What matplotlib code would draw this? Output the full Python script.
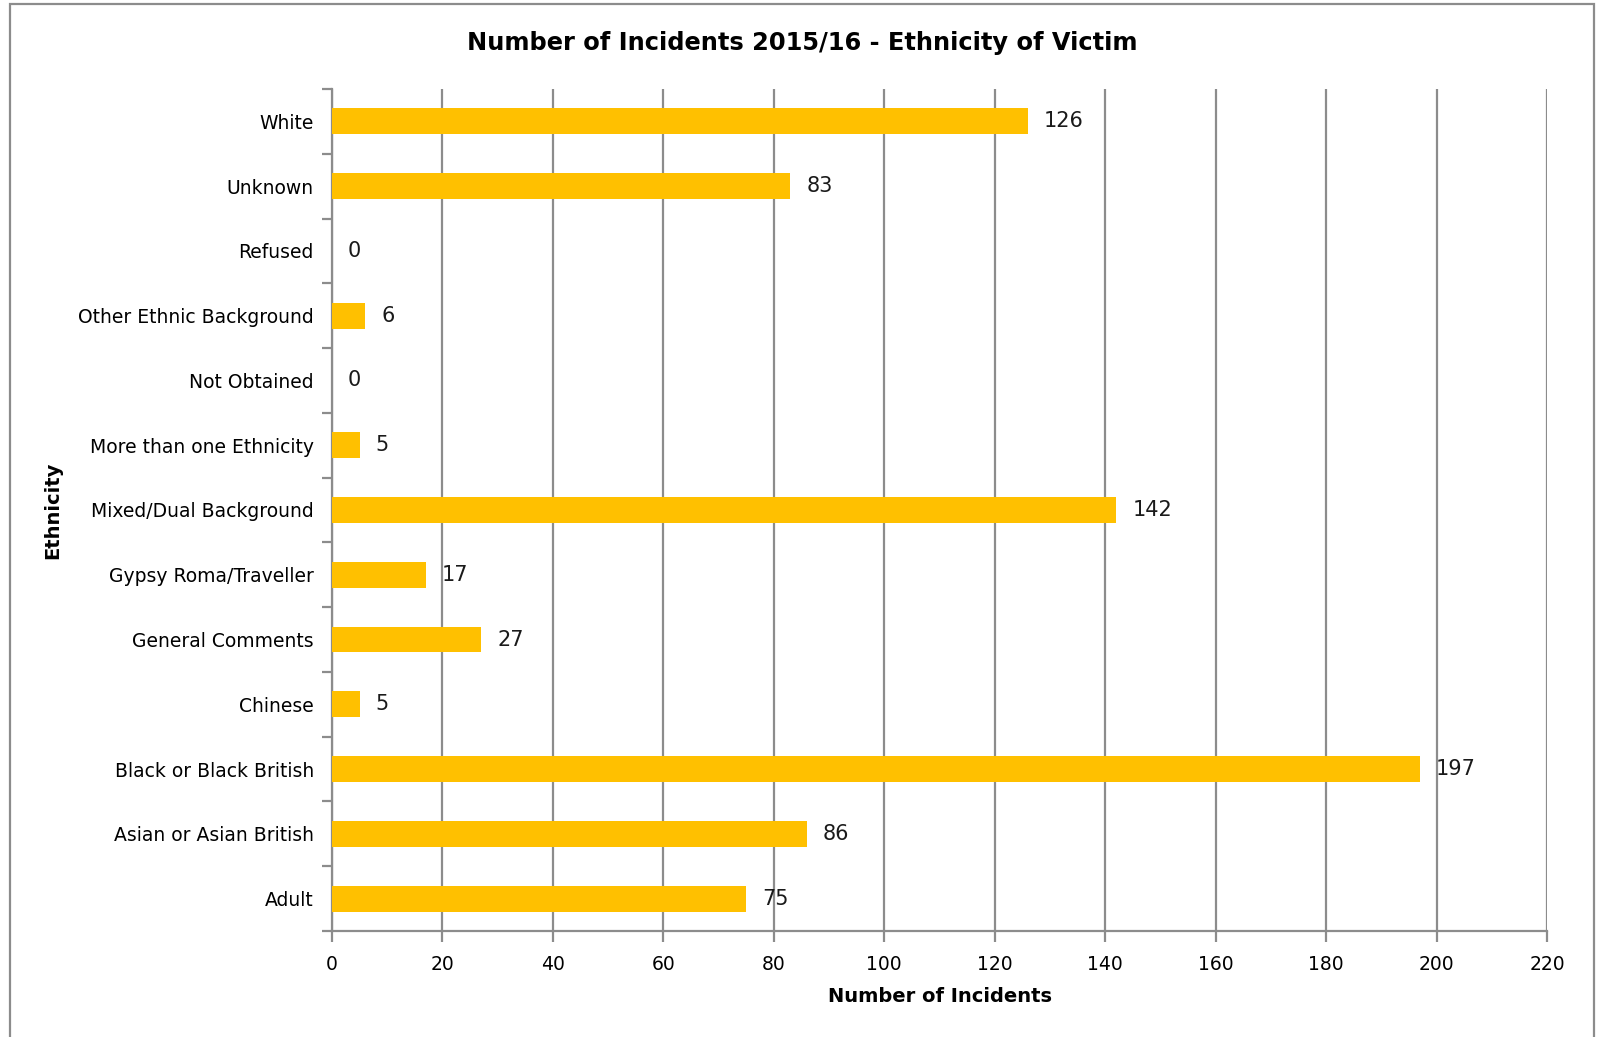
import matplotlib
matplotlib.use("Agg")
import matplotlib.pyplot as plt
from matplotlib.patches import Rectangle

# Data (bottom to top, as drawn)
categories = ["Adult", "Asian or Asian British", "Black or Black British", "Chinese",
              "General Comments", "Gypsy Roma/Traveller", "Mixed/Dual Background",
              "More than one Ethnicity", "Not Obtained", "Other Ethnic Background",
              "Refused", "Unknown", "White"]
incidents = [75, 86, 197, 5, 27, 17, 142, 5, 0, 6, 0, 83, 126]
x_ticks = list(range(0, 221, 20))

BAR_COLOR = "#FFC000"
GRID_COLOR = "#8C8C8C"

plt.rcParams["font.family"] = "DejaVu Sans"

fig = plt.figure(figsize=(16, 10.37), dpi=100)
ax = fig.add_axes([332 / 1600, 1 - 931 / 1037, (1547 - 332) / 1600, (931 - 89) / 1037])

# outer chart border
fig.patches.append(Rectangle((10 / 1600, -0.05), (1594 - 10) / 1600, 1.05 - 4 / 1037,
                             transform=fig.transFigure, fill=False,
                             edgecolor=GRID_COLOR, linewidth=1.6))

ypos = list(range(len(categories)))
ax.barh(ypos, incidents, height=0.4, color=BAR_COLOR, zorder=3)

for y, v in zip(ypos, incidents):
    ax.annotate(str(v), (v, y), xytext=(16, 0), textcoords="offset pixels",
                ha="left", va="center", fontsize=15, color="#1a1a1a")

ax.set_xlim(0, 220)
ax.set_ylim(-0.5, len(categories) - 0.5)
ax.set_xticks(x_ticks)
ax.set_xticklabels([str(t) for t in x_ticks], fontsize=13.5)
ax.set_yticks(ypos)
ax.set_yticklabels(categories, fontsize=13.5)
ax.tick_params(axis="y", which="major", length=0, pad=13)
ax.set_yticks([i - 0.5 for i in range(len(categories) + 1)], minor=True)
ax.tick_params(axis="y", which="minor", length=7, width=1.6, color=GRID_COLOR)
ax.tick_params(axis="x", length=8, width=1.6, color=GRID_COLOR, pad=9)

ax.grid(axis="x", color=GRID_COLOR, linewidth=1.6, zorder=0)
for s in ["top", "right"]:
    ax.spines[s].set_visible(False)
for s in ["left", "bottom"]:
    ax.spines[s].set_color(GRID_COLOR)
    ax.spines[s].set_linewidth(1.6)

ax.set_xlabel("Number of Incidents", fontsize=14, fontweight="bold", labelpad=10)
ax.set_ylabel("Ethnicity", fontsize=14, fontweight="bold")
ax.yaxis.set_label_coords(-270 / 1215, 0.5)

fig.text(802 / 1600, 1 - 43 / 1037, "Number of Incidents 2015/16 - Ethnicity of Victim",
         ha="center", va="center", fontsize=17.4, fontweight="bold")

fig.savefig("out.png", dpi=100)
